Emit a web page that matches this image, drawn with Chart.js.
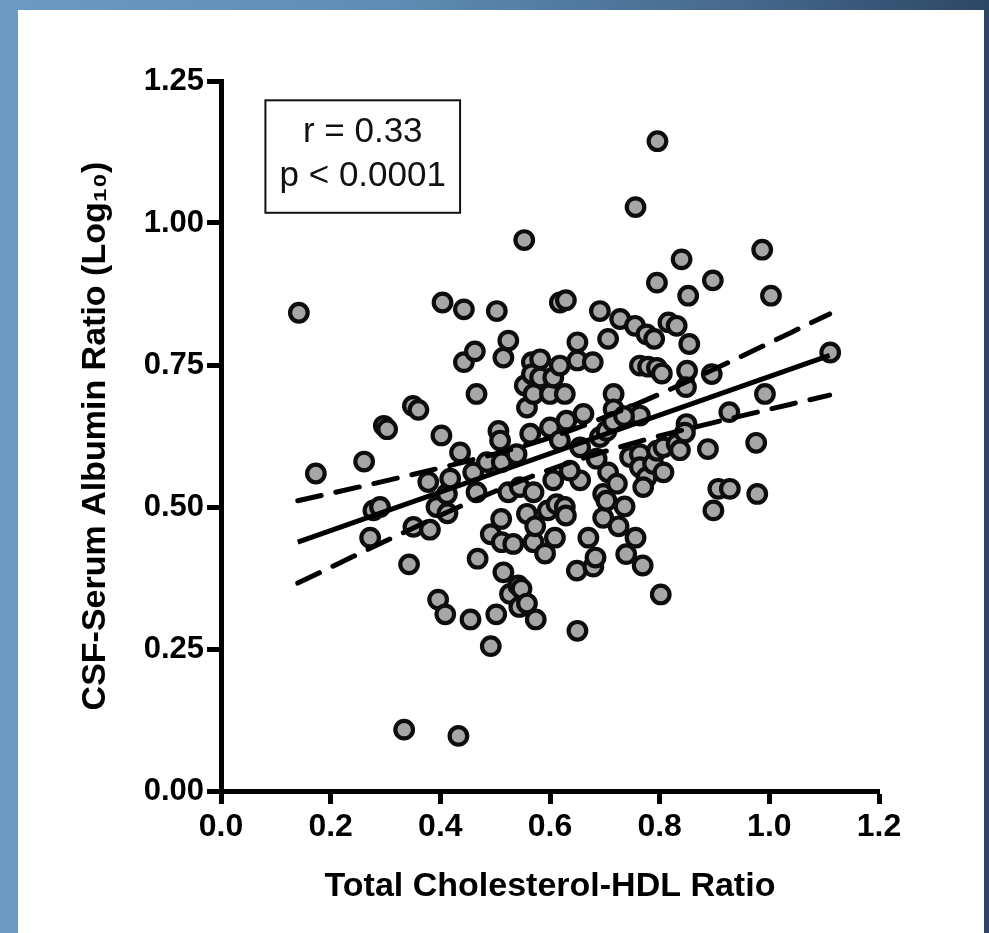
<!DOCTYPE html>
<html>
<head>
<meta charset="utf-8">
<script src="https://cdn.jsdelivr.net/npm/chart.js@4.4.1/dist/chart.umd.min.js"></script>
<style>
  html, body { margin: 0; padding: 0; }
  body {
    width: 989px; height: 933px; overflow: hidden; position: relative;
    background: linear-gradient(to right, #6b9ac2 0%, #5f8cb3 40%, #46698c 75%, #2c4764 100%);
  }
  #panel { position: absolute; left: 18px; top: 10px; width: 966px; height: 923px; background: #fff; }
  #scatterChart { position: absolute; left: 0; top: 0; }
</style>
</head>
<body>
<div id="panel"></div>
<canvas id="scatterChart" width="989" height="933"></canvas>
<script>
// values
const xVals = [0.142, 0.173, 0.261, 0.272, 0.278, 0.290, 0.297, 0.303, 0.334, 0.343,
    0.350, 0.360, 0.351, 0.378, 0.381, 0.393, 0.396, 0.402, 0.404, 0.409,
    0.412, 0.413, 0.418, 0.433, 0.436, 0.443, 0.443, 0.455, 0.460, 0.463,
    0.466, 0.466, 0.468, 0.485, 0.492, 0.492, 0.502, 0.503, 0.506, 0.509,
    0.511, 0.512, 0.512, 0.515, 0.515, 0.524, 0.524, 0.527, 0.533, 0.539,
    0.542, 0.548, 0.544, 0.545, 0.553, 0.554, 0.558, 0.558, 0.558, 0.564,
    0.567, 0.567, 0.570, 0.570, 0.570, 0.573, 0.574, 0.582, 0.582, 0.596,
    0.591, 0.600, 0.600, 0.606, 0.606, 0.609, 0.612, 0.618, 0.629, 0.618,
    0.618, 0.627, 0.627, 0.629, 0.630, 0.649, 0.650, 0.650, 0.650, 0.655,
    0.655, 0.661, 0.670, 0.678, 0.679, 0.683, 0.691, 0.691, 0.697, 0.697,
    0.703, 0.703, 0.706, 0.706, 0.716, 0.716, 0.722, 0.725, 0.728, 0.736,
    0.739, 0.746, 0.752, 0.755, 0.756, 0.756, 0.764, 0.764, 0.764, 0.764,
    0.769, 0.776, 0.776, 0.779, 0.788, 0.790, 0.795, 0.795, 0.795, 0.796,
    0.802, 0.804, 0.807, 0.807, 0.816, 0.831, 0.831, 0.837, 0.840, 0.852,
    0.854, 0.850, 0.848, 0.849, 0.846, 0.888, 0.895, 0.897, 0.898, 0.907,
    0.928, 0.927, 0.976, 0.978, 0.987, 0.992, 1.003, 1.111,
    0.685, 0.636, 0.770, 0.715, 0.735];
const yVals = [0.842, 0.559, 0.580, 0.446, 0.494, 0.500, 0.643, 0.637, 0.108, 0.399,
    0.678, 0.671, 0.465, 0.544, 0.460, 0.500, 0.337, 0.626, 0.860, 0.311,
    0.523, 0.489, 0.550, 0.097, 0.596, 0.848, 0.755, 0.302, 0.561, 0.774,
    0.699, 0.526, 0.409, 0.579, 0.452, 0.255, 0.311, 0.845, 0.634, 0.617,
    0.479, 0.579, 0.438, 0.763, 0.385, 0.793, 0.526, 0.347, 0.435, 0.593,
    0.362, 0.356, 0.324, 0.535, 0.970, 0.714, 0.675, 0.488, 0.330, 0.629,
    0.755, 0.734, 0.699, 0.526, 0.438, 0.466, 0.302, 0.760, 0.728, 0.494,
    0.418, 0.699, 0.640, 0.728, 0.547, 0.446, 0.505, 0.860, 0.864, 0.749,
    0.617, 0.699, 0.500, 0.485, 0.652, 0.388, 0.282, 0.790, 0.758, 0.605,
    0.547, 0.664, 0.446, 0.755, 0.395, 0.411, 0.845, 0.623, 0.481, 0.523,
    0.634, 0.511, 0.796, 0.561, 0.699, 0.672, 0.541, 0.466, 0.831, 0.501,
    0.417, 0.588, 0.664, 0.819, 0.446, 1.028, 0.749, 0.661, 0.593, 0.570,
    0.397, 0.804, 0.552, 0.747, 0.576, 0.796, 0.895, 0.745, 0.599, 1.144,
    0.346, 0.735, 0.605, 0.561, 0.825, 0.819, 0.611, 0.600, 0.936, 0.872,
    0.787, 0.740, 0.711, 0.646, 0.631, 0.602, 0.734, 0.899, 0.494, 0.532,
    0.532, 0.667, 0.613, 0.523, 0.953, 0.699, 0.872, 0.772,
    0.585, 0.564, 0.535, 0.650, 0.660];

// regression line and its 95% band
const fitX = [0.14, 1.11];
const fitY = [0.438, 0.767];
const bandX = [0.14, 0.30, 0.45, 0.60, 0.75, 0.90, 1.11];
const upperY = [0.511, 0.546, 0.581, 0.622, 0.678, 0.743, 0.840];
const lowerY = [0.366, 0.440, 0.507, 0.566, 0.612, 0.649, 0.697];

const xTickLabels = ["0.0", "0.2", "0.4", "0.6", "0.8", "1.0", "1.2"];
const yTickLabels = ["0.00", "0.25", "0.50", "0.75", "1.00", "1.25"];
const statLines = ["r = 0.33", "p < 0.0001"];

const FONT = "'Liberation Sans', Arial, Helvetica, sans-serif";

const pts = xVals.map((x, i) => ({ x: x, y: yVals[i] }));
const toXY = (xs, ys) => xs.map((x, i) => ({ x: x, y: ys[i] }));

// little boxed r / p text in the top left
const statBox = {
    id: "statBox",
    afterDraw(chart) {
        const { ctx, scales } = chart;
        const x0 = scales.x.getPixelForValue(0.081);
        const x1 = scales.x.getPixelForValue(0.436);
        const y0 = scales.y.getPixelForValue(1.216);
        const y1 = scales.y.getPixelForValue(1.018);
        ctx.save();
        ctx.fillStyle = "#fff";
        ctx.fillRect(x0, y0, x1 - x0, y1 - y0);
        ctx.strokeStyle = "#111";
        ctx.lineWidth = 2;
        ctx.strokeRect(x0, y0, x1 - x0, y1 - y0);
        ctx.fillStyle = "#111";
        ctx.font = "35px " + FONT;
        ctx.textAlign = "center";
        ctx.textBaseline = "middle";
        const cx = (x0 + x1) / 2;
        ctx.fillText(statLines[0], cx, scales.y.getPixelForValue(1.159));
        ctx.fillText(statLines[1], cx, scales.y.getPixelForValue(1.083));
        ctx.restore();
    },
};

const canvas = document.getElementById("scatterChart");
const ctx = canvas.getContext("2d");

const dashed = (ys) => ({
    type: "line",
    data: toXY(bandX, ys),
    borderColor: "#000",
    borderWidth: 5,
    borderDash: [24, 15],
    borderCapStyle: "round",
    pointRadius: 0,
    cubicInterpolationMode: "monotone",
    fill: false,
});

new Chart(ctx, {
    type: "scatter",
    data: {
        datasets: [
            {
                type: "line",
                data: toXY(fitX, fitY),
                borderColor: "#000",
                borderWidth: 5,
                pointRadius: 0,
                fill: false,
            },
            dashed(upperY),
            dashed(lowerY),
            {
                data: pts,
                backgroundColor: "#a6a6a6",
                borderColor: "#0d0d0d",
                borderWidth: 4.2,
                pointRadius: 8.8,
            },
        ],
    },
    options: {
        responsive: false,
        animation: false,
        layout: { padding: { left: 0, top: 81, right: 110, bottom: 0 } },
        plugins: {
            legend: { display: false },
            tooltip: { enabled: false },
        },
        scales: {
            x: {
                type: "linear",
                min: 0,
                max: 1.2,
                afterFit: (s) => { s.height = 142; },
                ticks: {
                    stepSize: 0.2,
                    color: "#000",
                    padding: 4,
                    font: { family: FONT, size: 32, weight: "bold" },
                    callback: (v, i) => xTickLabels[i],
                },
                grid: { drawOnChartArea: false, drawTicks: true, tickLength: 13, tickWidth: 5, tickColor: "#000" },
                border: { display: true, width: 5, color: "#000" },
                title: {
                    display: true,
                    text: "Total Cholesterol-HDL Ratio",
                    color: "#000",
                    font: { family: FONT, size: 34, weight: "bold" },
                    padding: { top: 0, bottom: 26 },
                },
            },
            y: {
                min: 0,
                max: 1.25,
                afterFit: (s) => { s.width = 221; },
                ticks: {
                    stepSize: 0.25,
                    color: "#000",
                    padding: 3,
                    font: { family: FONT, size: 31, weight: "bold" },
                    callback: (v, i) => yTickLabels[i],
                },
                grid: { drawOnChartArea: false, drawTicks: true, tickLength: 14, tickWidth: 5, tickColor: "#000" },
                border: { display: true, width: 5, color: "#000" },
                title: {
                    display: true,
                    text: "CSF-Serum Albumin Ratio (Log\u2081\u2080)",
                    color: "#000",
                    font: { family: FONT, size: 34, weight: "bold" },
                    padding: { top: 75, bottom: 0 },
                },
            },
        },
    },
    plugins: [statBox],
});
</script>
</body>
</html>
